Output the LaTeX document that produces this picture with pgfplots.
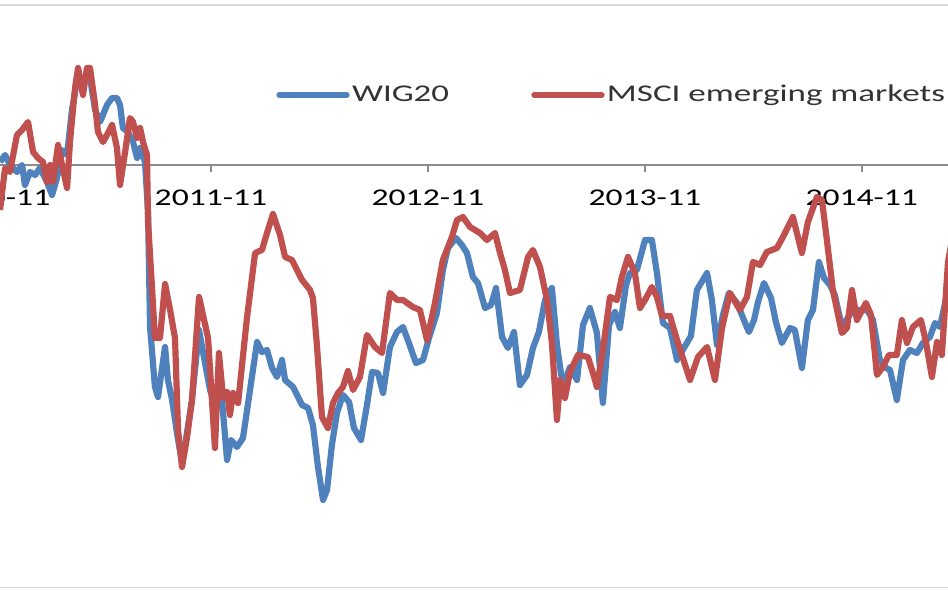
\documentclass[border=0pt]{standalone}
\usepackage{fontspec}
\setmainfont{Carlito}
\usepackage{graphicx}
\usepackage{pgfplots}
\pgfplotsset{compat=1.18}
\definecolor{wigblue}{HTML}{4F81BD}
\definecolor{msciRed}{HTML}{C0504D}
\definecolor{zeroline}{HTML}{8C8C8C}
\definecolor{frameline}{HTML}{D9D9D9}

% x: months since 2010-11, y: change (chart units)
\pgfplotstableread{
m y
0.33 0.6
0.61 2.0
0.88 0.0
1.27 -1.4
1.55 0.0
1.71 -4.0
1.99 -1.4
2.27 -2.0
2.54 -0.6
2.93 -3.4
3.21 -6.0
3.48 -2.6
3.76 3.0
4.04 2.0
4.31 11.0
4.65 18.0
4.92 16.0
5.14 18.6
5.31 17.4
5.59 11.0
5.86 8.6
6.25 12.0
6.53 13.4
6.80 13.4
6.97 12.0
7.13 7.4
7.41 6.6
7.69 4.6
7.91 1.4
8.08 3.4
8.35 0.6
8.52 -9.4
8.63 -32.4
8.90 -44.4
9.07 -46.4
9.46 -36.4
9.62 -43.0
9.85 -47.0
10.12 -53.6
10.40 -59.6
10.67 -53.6
10.95 -47.0
11.34 -33.0
11.62 -38.6
11.95 -45.0
12.28 -48.6
12.61 -47.0
12.89 -59.0
13.11 -55.0
13.44 -56.4
13.77 -54.6
14.16 -45.0
14.55 -35.4
14.82 -37.4
15.10 -37.0
15.38 -40.6
15.65 -42.4
15.93 -39.0
16.10 -43.0
16.54 -44.4
17.04 -48.0
17.37 -48.6
17.64 -52.0
17.92 -60.4
18.20 -67.0
18.42 -65.0
18.69 -56.0
18.97 -49.6
19.30 -46.0
19.64 -47.4
19.91 -52.6
20.30 -55.0
20.63 -48.0
20.91 -41.4
21.24 -41.6
21.52 -45.6
21.90 -36.4
22.29 -33.4
22.62 -32.4
22.95 -35.6
23.34 -39.6
23.73 -39.0
24.06 -34.6
24.50 -29.6
24.83 -21.0
25.11 -16.6
25.55 -14.6
25.88 -16.0
26.16 -17.6
26.49 -22.4
26.77 -23.6
27.16 -28.6
27.49 -28.0
27.77 -24.6
28.10 -34.4
28.43 -36.6
28.76 -33.4
29.09 -44.0
29.48 -42.0
29.81 -36.6
30.14 -33.4
30.48 -27.0
30.86 -24.6
31.14 -36.0
31.47 -44.4
31.86 -40.4
32.25 -43.0
32.58 -32.0
32.96 -28.6
33.35 -33.6
33.68 -47.6
34.02 -32.0
34.35 -29.4
34.62 -32.6
34.96 -24.0
35.18 -21.6
35.56 -21.0
36.01 -15.0
36.39 -15.0
36.67 -21.6
37.00 -31.6
37.39 -32.6
37.78 -39.0
38.16 -36.6
38.55 -34.2
38.88 -25.0
39.44 -21.6
39.71 -27.0
39.99 -36.0
40.32 -30.0
40.65 -25.6
41.10 -27.6
41.48 -31.0
41.76 -33.4
42.04 -31.0
42.26 -27.4
42.59 -23.6
42.98 -26.6
43.25 -31.4
43.58 -35.6
44.03 -32.6
44.30 -33.0
44.69 -40.6
45.02 -31.0
45.30 -29.0
45.63 -19.4
45.91 -22.6
46.24 -24.0
46.51 -26.0
46.90 -32.4
47.51 -29.0
48.29 -29.0
48.62 -31.0
49.00 -39.0
49.23 -40.4
49.56 -41.0
49.94 -47.0
50.28 -39.0
50.66 -37.0
51.05 -37.6
51.38 -35.6
51.77 -34.4
52.05 -31.6
52.32 -32.4
52.77 -25.0
}\wig

\pgfplotstableread{
m y
0.33 -9.0
0.61 -0.6
0.88 -1.4
1.27 6.0
1.55 7.0
1.88 8.6
2.16 2.6
2.43 1.4
2.71 0.6
2.93 -3.4
3.10 0.0
3.26 -3.4
3.54 4.0
3.76 0.0
4.04 -4.6
4.20 4.6
4.48 15.4
4.65 19.4
4.92 14.0
5.14 19.4
5.31 19.4
5.59 12.0
5.75 6.6
6.03 4.6
6.25 6.0
6.53 8.0
6.80 3.4
6.97 -4.0
7.25 2.6
7.52 9.4
7.69 8.6
7.91 5.4
8.08 7.4
8.24 4.6
8.46 2.0
8.52 -11.4
8.74 -24.6
8.90 -34.6
9.18 -34.6
9.46 -23.8
9.73 -28.8
10.01 -34.6
10.18 -53.0
10.40 -60.4
10.67 -54.6
10.95 -47.0
11.34 -26.4
11.56 -30.0
11.84 -34.6
12.22 -56.6
12.44 -37.6
12.67 -46.6
12.89 -45.4
13.05 -50.0
13.22 -45.6
13.50 -47.6
13.99 -30.6
14.44 -17.6
14.82 -17.0
15.10 -13.6
15.43 -9.8
15.82 -14.0
16.10 -18.4
16.48 -19.0
17.04 -23.0
17.48 -25.0
17.64 -26.6
17.86 -36.0
18.14 -50.4
18.47 -52.6
18.75 -47.6
19.03 -45.6
19.30 -44.4
19.58 -41.2
19.86 -45.0
20.24 -42.4
20.63 -34.0
21.07 -36.4
21.46 -37.6
21.90 -25.6
22.29 -27.0
22.62 -27.0
23.17 -28.4
23.56 -29.0
23.95 -35.0
24.39 -27.6
24.83 -19.0
25.33 -14.4
25.61 -11.0
25.94 -10.4
26.33 -12.4
26.88 -13.6
27.27 -15.0
27.71 -13.6
27.99 -17.6
28.26 -21.0
28.54 -25.6
29.09 -25.0
29.54 -18.4
29.81 -17.0
30.20 -20.4
30.59 -27.0
30.86 -35.6
31.14 -51.0
31.31 -43.0
31.58 -46.6
31.86 -41.4
32.30 -38.0
32.85 -38.4
33.13 -41.6
33.35 -44.4
33.68 -37.0
34.07 -26.4
34.46 -27.0
34.73 -22.4
35.07 -18.4
35.45 -21.6
35.73 -28.6
36.01 -27.0
36.39 -24.4
36.67 -26.4
36.95 -30.2
37.39 -30.2
37.78 -35.0
38.50 -43.0
38.94 -38.4
39.44 -36.4
39.88 -43.0
40.27 -32.6
40.71 -25.6
41.26 -29.0
41.65 -26.4
41.98 -19.4
42.37 -20.0
42.75 -17.4
43.31 -16.6
43.64 -14.4
44.19 -10.4
44.69 -17.6
45.02 -11.4
45.52 -6.4
45.80 -7.0
46.07 -15.0
46.40 -25.0
46.90 -33.6
47.18 -32.6
47.46 -25.0
47.73 -31.0
48.23 -27.6
48.51 -30.0
48.84 -42.0
49.17 -40.4
49.50 -38.0
49.94 -38.0
50.22 -31.0
50.50 -35.6
50.83 -32.4
51.27 -31.0
51.55 -35.4
51.88 -42.4
52.16 -35.4
52.43 -38.0
52.77 -19.4
52.99 -15.0
}\msci

\begin{document}
\begin{tikzpicture}
\begin{axis}[
  scale only axis,
  width=504.1pt, height=291.5pt,
  xmin=-3.0, xmax=52.77,
  ymin=-84.6, ymax=32,
  axis x line=middle,
  axis y line=none,
  x axis line style={-, draw=zeroline, line width=0.8pt},
  xtick={0,12,24,36,48},
  xticklabels={\scalebox{1.4}[1]{2010-11},\scalebox{1.4}[1]{2011-11},\scalebox{1.4}[1]{2012-11},\scalebox{1.4}[1]{2013-11},\scalebox{1.4}[1]{2014-11}},
  xtick align=outside,
  major tick length=3.5pt,
  x tick style={draw=zeroline, line width=0.8pt},
  x tick label style={font=\fontsize{12}{14}\selectfont, text=black, yshift=-5.5pt},
  ytick=\empty,
  legend columns=2,
  legend style={draw=none, fill=none, inner sep=0pt,
    at={(0.3335,0.8456)}, anchor=west,
    font=\fontsize{12}{14}\selectfont, text=black!80,
    nodes={inner sep=1.2pt},
    /tikz/every even column/.append style={column sep=40pt}},
  legend image code/.code={\draw[#1, line width=2.6pt, line cap=round] (0pt,0pt) -- (34pt,0pt);},
]
\draw[frameline, line width=1pt] (rel axis cs:0,1) -- (rel axis cs:1,1);
\draw[frameline, line width=1pt] (rel axis cs:0,0) -- (rel axis cs:1,0);
\addplot[wigblue, line width=3.1pt, line join=round] table[x=m, y=y] {\wig};
\addlegendentry{\scalebox{1.45}[1]{WIG20}}
\addplot[msciRed, line width=3.1pt, line join=round] table[x=m, y=y] {\msci};
\addlegendentry{\scalebox{1.46}[1]{MSCI emerging markets}}
\coordinate (bl) at (axis cs:0.33,-84.6);
\coordinate (tr) at (axis cs:52.77,32);
\end{axis}
\pgfresetboundingbox
\path[use as bounding box] ([yshift=-2.5pt]bl) rectangle ([yshift=2.5pt]tr);
\end{tikzpicture}
\end{document}
